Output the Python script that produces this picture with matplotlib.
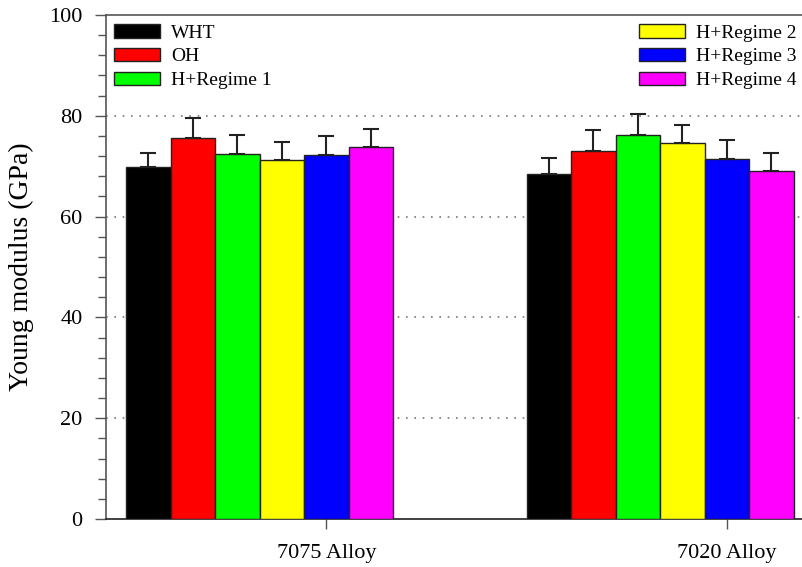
import matplotlib
matplotlib.use("Agg")
import matplotlib.pyplot as plt
from matplotlib.ticker import MultipleLocator

plt.rcParams["font.family"] = ["Liberation Serif", "DejaVu Serif"]

# data
alloys = ["7075 Alloy", "7020 Alloy"]
treatments = ["WHT", "OH", "H+Regime 1", "H+Regime 2", "H+Regime 3", "H+Regime 4"]
modulus_7075 = [69.8, 75.5, 72.5, 71.2, 72.2, 73.9]
err_7075 = [2.9, 4.1, 3.7, 3.6, 3.7, 3.5]
modulus_7020 = [68.5, 73.0, 76.2, 74.6, 71.4, 69.1]
err_7020 = [3.1, 4.2, 4.1, 3.5, 3.8, 3.6]

COLORS = ["#000000", "#ff0000", "#00ff00", "#ffff00", "#0000ff", "#ff00ff"]

W, H = 802, 567
fig = plt.figure(figsize=(W / 100, H / 100), dpi=100)
ax = fig.add_axes([106 / W, 48 / H, 696 / W, 504 / H])

group_start = [0, 9]
values = [modulus_7075, modulus_7020]
errors = [err_7075, err_7020]

handles = []
for i, name in enumerate(treatments):
    xs = [g + i for g in group_start]
    ys = [v[i] for v in values]
    es = [e[i] for e in errors]
    b = ax.bar(xs, ys, width=1.0, color=COLORS[i], edgecolor="#222222",
               linewidth=1.0, label=name, zorder=3)
    ax.errorbar(xs, ys, yerr=[[0] * len(es), es], fmt="none", ecolor="#222222",
                elinewidth=1.5, capsize=5.5, capthick=1.5, zorder=4)
    handles.append(b)

ax.set_xlim(-0.95, 14.69)
ax.set_ylim(0, 100)
ax.set_xticks([g + 4 for g in group_start])
ax.set_xticklabels(alloys, fontsize=16)
ax.yaxis.set_major_locator(MultipleLocator(20))
ax.yaxis.set_minor_locator(MultipleLocator(4))
ax.tick_params(axis="y", which="major", length=8, width=1, labelsize=16, pad=9, color="#555555")
ax.tick_params(axis="y", which="minor", length=6, width=1, color="#555555")
ax.tick_params(axis="x", which="major", length=7, width=1, pad=11, color="#555555")
ax.set_ylabel("Young modulus (GPa)", fontsize=20, labelpad=11)

for y in [20, 40, 60, 80]:
    ax.axhline(y, color="#777777", linestyle=(0, (1, 4)), linewidth=1.2, zorder=1)

ax.spines["right"].set_visible(False)
ax.spines["left"].set_color("#555555")
ax.spines["top"].set_color("#555555")
ax.spines["bottom"].set_color("#222222")
for s in ax.spines.values():
    s.set_linewidth(1.2)

leg_kw = dict(frameon=False, fontsize=14, handlelength=2.35, handleheight=0.7,
              handletextpad=0.6, labelspacing=0.32, borderpad=0, borderaxespad=0)
fig.legend(handles[:3], treatments[:3], loc="upper left",
           bbox_to_anchor=(114 / W, 1 - 24 / H), **leg_kw)
fig.legend(handles[3:], treatments[3:], loc="upper right",
           bbox_to_anchor=(797 / W, 1 - 24 / H), **leg_kw)

fig.savefig("out.png", dpi=100)
